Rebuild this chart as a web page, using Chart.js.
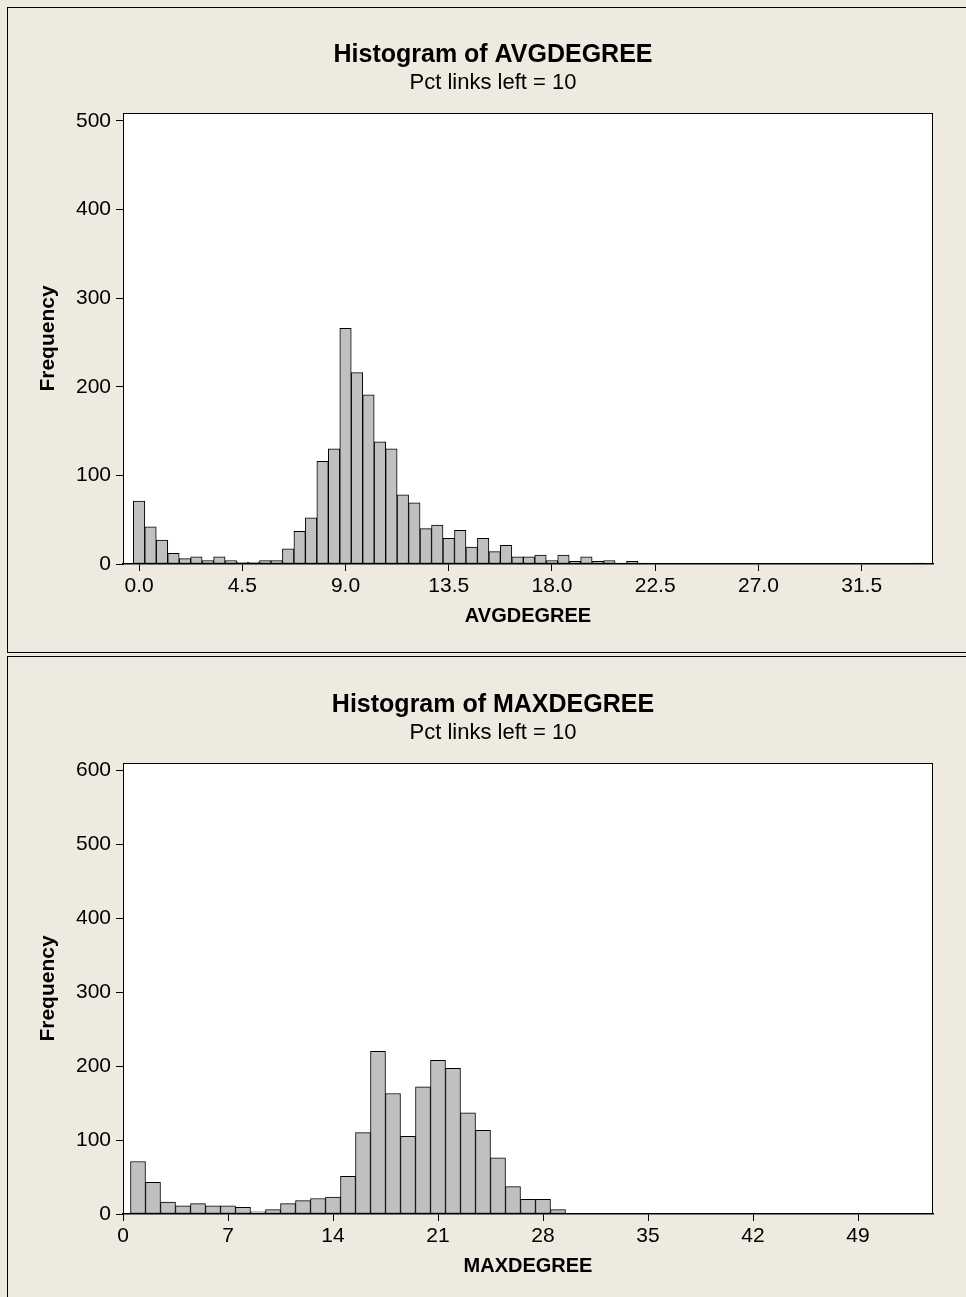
<!DOCTYPE html>
<html>
<head>
<meta charset="utf-8">
<script src="https://cdn.jsdelivr.net/npm/chart.js@4.4.1/dist/chart.umd.min.js"></script>
<style>
  html, body { margin: 0; padding: 0; }
  body { width: 966px; height: 1297px; overflow: hidden; background: #eeeae0; position: relative; }
  .panel { position: absolute; left: 7px; width: 1000px; border: 1px solid #000; box-sizing: border-box; }
  #panelAvg { top: 7px; height: 646px; }
  #panelMax { top: 656px; height: 700px; }
  canvas { position: absolute; left: 0; top: 0; }
</style>
</head>
<body>
<div class="panel" id="panelAvg"><canvas id="chartAvg" width="970" height="644"></canvas></div>
<div class="panel" id="panelMax"><canvas id="chartMax" width="970" height="640"></canvas></div>
<script>
// bin midpoints and counts
const avgDegreeBins = [0.0, 0.5, 1.0, 1.5, 2.0, 2.5, 3.0, 3.5, 4.0, 4.5,
  5.0, 5.5, 6.0, 6.5, 7.0, 7.5, 8.0, 8.5, 9.0, 9.5,
  10.0, 10.5, 11.0, 11.5, 12.0, 12.5, 13.0, 13.5, 14.0, 14.5,
  15.0, 15.5, 16.0, 16.5, 17.0, 17.5, 18.0, 18.5, 19.0, 19.5,
  20.0, 20.5, 21.0, 21.5, 22.0, 22.5, 23.0, 23.5, 24.0, 24.5,
  25.0, 25.5, 26.0, 26.5, 27.0, 27.5, 28.0, 28.5, 29.0, 29.5,
  30.0, 30.5, 31.0, 31.5, 32.0, 32.5, 33.0, 33.5, 34.0];
const avgDegreeCounts = [71, 42, 27, 12, 6, 8, 4, 8, 4, 2,
  2, 4, 4, 17, 37, 52, 116, 130, 266, 216,
  191, 138, 130, 78, 69, 40, 44, 29, 38, 19,
  29, 14, 21, 8, 8, 10, 4, 10, 3, 8,
  3, 4, 1, 3, 1, 0, 0, 0, 0, 0,
  0, 0, 0, 0, 0, 0, 0, 0, 0, 0,
  0, 0, 0, 0, 0, 0, 0, 0, 1];
const avgDegreeTicks = [0.0, 4.5, 9.0, 13.5, 18.0, 22.5, 27.0, 31.5];
const avgFreqTicks = [0, 100, 200, 300, 400, 500];

const maxDegreeBins = [1, 2, 3, 4, 5, 6, 7, 8, 9, 10,
  11, 12, 13, 14, 15, 16, 17, 18, 19, 20,
  21, 22, 23, 24, 25, 26, 27, 28, 29, 30,
  31, 32, 33, 34, 35, 36, 37, 38, 39, 40,
  41, 42, 43, 44, 45, 46, 47, 48, 49, 50,
  51, 52, 53];
const maxDegreeCounts = [71, 43, 16, 11, 14, 11, 11, 9, 3, 6,
  14, 18, 21, 23, 51, 110, 220, 163, 105, 172,
  208, 197, 137, 113, 76, 37, 20, 20, 6, 0,
  0, 0, 0, 0, 0, 0, 0, 0, 0, 0,
  0, 0, 0, 0, 0, 0, 0, 0, 0, 0,
  0, 0, 1];
const maxDegreeTicks = [0, 7, 14, 21, 28, 35, 42, 49];
const maxFreqTicks = [0, 100, 200, 300, 400, 500, 600];

const FONT = '"Liberation Sans", Arial, sans-serif';
Chart.defaults.font.family = FONT;
Chart.defaults.color = '#000';

// white plot box with frame + title lines (Minitab style)
const frameAndTitles = {
  id: 'frameAndTitles',
  beforeDraw(chart) {
    const { ctx, chartArea: a } = chart;
    ctx.save();
    ctx.fillStyle = '#fff';
    ctx.fillRect(a.left, a.top, a.width, a.height);
    ctx.restore();
  },
  afterDatasetsDraw(chart) {
    const { ctx, chartArea: a } = chart;
    ctx.save();
    ctx.strokeStyle = '#000';
    ctx.lineWidth = 1;
    ctx.strokeRect(a.left + 0.5, a.top + 0.5, a.width - 1, a.height - 1);
    ctx.restore();
  },
  afterDraw(chart, args, opts) {
    const ctx = chart.ctx;
    ctx.save();
    ctx.fillStyle = '#000';
    ctx.textAlign = 'center';
    ctx.textBaseline = 'alphabetic';
    ctx.font = 'bold 25px ' + FONT;
    ctx.fillText(opts.title, 485, opts.titleY);
    ctx.font = '22px ' + FONT;
    ctx.fillText(opts.subtitle, 485, opts.titleY + 27);
    ctx.restore();
  }
};

function histogram(id, cfg) {
  return new Chart(document.getElementById(id), {
    type: 'bar',
    data: {
      datasets: [{
        data: cfg.bins.map((b, i) => ({ x: b, y: cfg.counts[i] })),
        backgroundColor: '#c0c0c0',
        borderColor: '#000',
        borderWidth: 1,
        borderSkipped: false,
        barPercentage: 1,
        categoryPercentage: 1
      }]
    },
    options: {
      responsive: false,
      animation: false,
      layout: { padding: { top: cfg.padTop, right: 45, bottom: cfg.padBottom, left: 0 } },
      plugins: {
        legend: { display: false },
        tooltip: { enabled: false },
        frameAndTitles: { title: cfg.title, subtitle: 'Pct links left = 10', titleY: cfg.titleY }
      },
      scales: {
        x: {
          type: 'linear',
          min: cfg.xMin,
          max: cfg.xMax,
          offset: false,
          afterBuildTicks: s => { s.ticks = cfg.xTicks.map(v => ({ value: v })); },
          afterFit: s => { s.height = 80; },
          grid: { offset: false, drawOnChartArea: false, tickLength: 7, color: '#000' },
          border: { color: '#000', width: 1.5 },
          ticks: {
            autoSkip: false, maxRotation: 0, padding: 3,
            font: { size: 21 },
            callback: cfg.fmt
          },
          title: { display: true, text: cfg.xTitle, font: { size: 20, weight: 'bold' }, padding: { top: 0, bottom: 16 } }
        },
        y: {
          min: 0,
          max: cfg.yMax,
          afterBuildTicks: s => { s.ticks = cfg.yTicks.map(v => ({ value: v })); },
          afterFit: s => { s.width = 115; },
          grid: { drawOnChartArea: false, tickLength: 7, color: '#000' },
          border: { color: '#000' },
          ticks: { padding: 5, font: { size: 21 } },
          title: { display: true, text: 'Frequency', font: { size: 21, weight: 'bold' }, padding: { top: 28, bottom: 0 } }
        }
      }
    },
    plugins: [frameAndTitles]
  });
}

histogram('chartAvg', {
  bins: avgDegreeBins, counts: avgDegreeCounts,
  xTicks: avgDegreeTicks, yTicks: avgFreqTicks,
  xMin: -0.7, xMax: 34.61, yMax: 509,
  fmt: v => v.toFixed(1),
  xTitle: 'AVGDEGREE', title: 'Histogram of AVGDEGREE', titleY: 54,
  padTop: 105, padBottom: 8
});

histogram('chartMax', {
  bins: maxDegreeBins, counts: maxDegreeCounts,
  xTicks: maxDegreeTicks, yTicks: maxFreqTicks,
  xMin: 0, xMax: 54, yMax: 610,
  fmt: v => String(v),
  xTitle: 'MAXDEGREE', title: 'Histogram of MAXDEGREE', titleY: 55,
  padTop: 106, padBottom: 3
});
</script>
</body>
</html>
